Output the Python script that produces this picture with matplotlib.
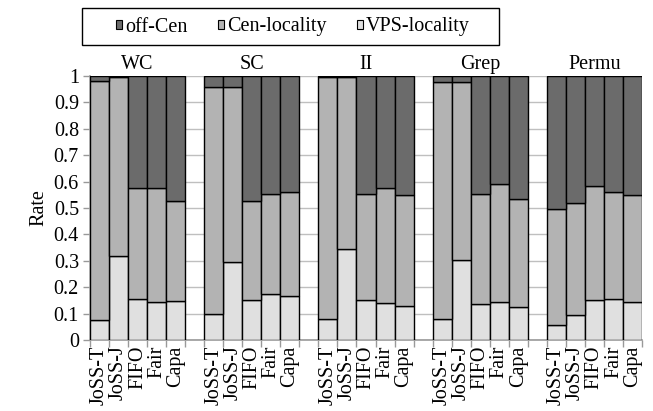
import numpy as np
import matplotlib
matplotlib.use("Agg")
import matplotlib.pyplot as plt
from matplotlib.patches import Rectangle

plt.rcParams["font.family"] = ["Liberation Serif", "DejaVu Serif"]

groups = ["WC", "SC", "II", "Grep", "Permu"]
schedulers = ["JoSS-T", "JoSS-J", "FIFO", "Fair", "Capa"]

# rate per group, order of schedulers
vps_locality = [
    [0.075, 0.320, 0.155, 0.145, 0.148],
    [0.100, 0.295, 0.153, 0.173, 0.167],
    [0.080, 0.343, 0.153, 0.141, 0.130],
    [0.078, 0.303, 0.137, 0.143, 0.124],
    [0.058, 0.093, 0.153, 0.156, 0.143],
]
cen_locality = [
    [0.907, 0.675, 0.420, 0.430, 0.377],
    [0.860, 0.665, 0.373, 0.380, 0.395],
    [0.917, 0.654, 0.400, 0.434, 0.419],
    [0.900, 0.675, 0.416, 0.448, 0.409],
    [0.437, 0.427, 0.432, 0.403, 0.406],
]
off_cen = [
    [0.018, 0.005, 0.425, 0.425, 0.475],
    [0.040, 0.040, 0.474, 0.447, 0.438],
    [0.003, 0.003, 0.447, 0.425, 0.451],
    [0.022, 0.022, 0.447, 0.409, 0.467],
    [0.505, 0.480, 0.415, 0.441, 0.451],
]

C_OFF = "#6b6b6b"
C_CEN = "#b3b3b3"
C_VPS = "#e0e0e0"
FS = 14.5

fig = plt.figure(figsize=(6.53, 4.11), dpi=100)
ax = fig.add_axes([90 / 653, 1 - 340 / 411, 552 / 653, 264 / 411])

n = len(schedulers)
xs, labels = [], []
vps, cen, off = [], [], []
for g in range(len(groups)):
    for i in range(n):
        xs.append(g * (n + 1) + i + 0.5)
        labels.append(schedulers[i])
        vps.append(vps_locality[g][i])
        cen.append(cen_locality[g][i])
        off.append(off_cen[g][i])
xs = np.array(xs)
vps, cen, off = np.array(vps), np.array(cen), np.array(off)

kw = dict(width=1.0, edgecolor="black", linewidth=1.0, zorder=3)
ax.bar(xs, vps, color=C_VPS, label="VPS-locality", **kw)
ax.bar(xs, cen, bottom=vps, color=C_CEN, label="Cen-locality", **kw)
ax.bar(xs, off, bottom=vps + cen, color=C_OFF, label="off-Cen", **kw)

total = len(groups) * (n + 1) - 1
ax.set_xlim(0, total)
ax.set_ylim(0, 1)
ax.set_yticks(np.arange(0, 1.01, 0.1))
ax.set_yticklabels(["0"] + ["%.1f" % v for v in np.arange(0.1, 0.95, 0.1)] + ["1"])
ax.yaxis.grid(True, color="#bfbfbf", linewidth=1.0, zorder=0)
ax.set_axisbelow(True)

ax.set_xticks(xs)
ax.set_xticklabels(labels, rotation=90, fontsize=FS)
ax.set_xticks(np.arange(0, total + 1), minor=True)
ax.tick_params(axis="x", which="major", length=0, pad=4)
ax.tick_params(axis="x", which="minor", length=5, color="#999999", width=1)
ax.tick_params(axis="y", length=5, color="#999999", width=1, labelsize=FS, pad=3)

for s in ["top", "right"]:
    ax.spines[s].set_visible(False)
for s in ["left", "bottom"]:
    ax.spines[s].set_color("#999999")
    ax.spines[s].set_linewidth(1.2)

ax.set_ylabel("Rate", fontsize=FS, labelpad=4)

for g, name in enumerate(groups):
    ax.text(g * (n + 1) + n / 2, 1.045, name, ha="center", va="center",
            fontsize=FS, clip_on=False)

# legend box
fig.patches.append(Rectangle((82 / 653, 1 - 45 / 411), 417 / 653, 37 / 411,
                             transform=fig.transFigure, fill=False,
                             edgecolor="black", linewidth=1.0))
handles, lbls = ax.get_legend_handles_labels()
leg = fig.legend(handles[::-1], lbls[::-1], loc="center", ncol=3,
                 bbox_to_anchor=(293 / 653, 1 - 27 / 411),
                 frameon=False, fontsize=FS, handlelength=0.3,
                 handleheight=0.3, handletextpad=0.15, columnspacing=1.5,
                 borderaxespad=0, borderpad=0)
for h in leg.legend_handles:
    h.set_linewidth(0.8)

fig.savefig("out.png", dpi=100)
